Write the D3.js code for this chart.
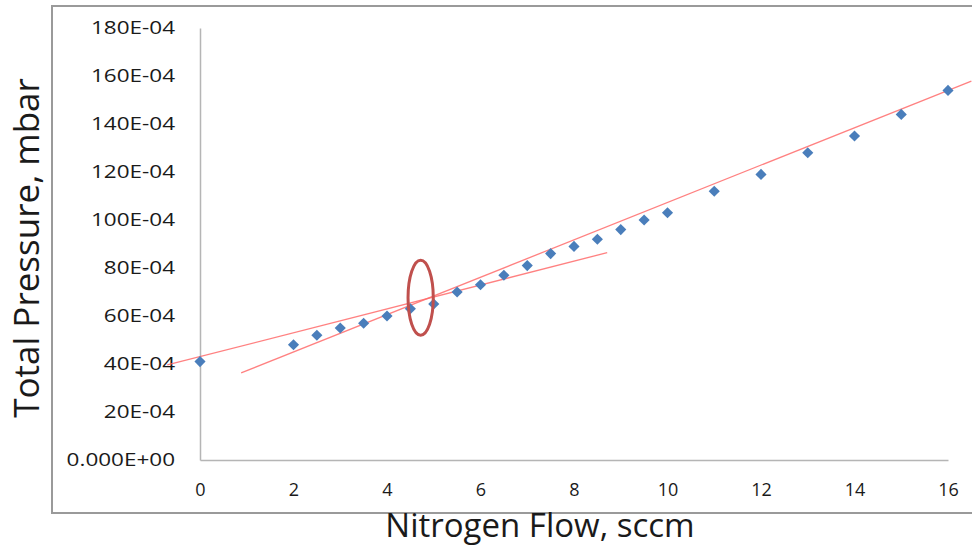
<!DOCTYPE html>
<html lang="en">

<head>
  <meta charset="UTF-8">
  <title>Total Pressure vs Nitrogen Flow</title>
  <script src="https://cdn.jsdelivr.net/npm/d3@7/dist/d3.min.js"></script>
  <style>
    body { margin: 0; background: #fff; }
    text { font-family: "Open Sans", sans-serif; fill: #1a1a1a; }
  </style>
</head>

<body>
  <div id="root"></div>
  <script>
    // data (pressure in units of 1E-04 mbar)
    const flow = [0, 2, 2.5, 3, 3.5, 4, 4.5, 5, 5.5, 6, 6.5, 7, 7.5, 8, 8.5, 9, 9.5, 10, 11, 12, 13, 14, 15, 16];
    const pressure = [41, 48, 52, 55, 57, 60, 63, 65, 70, 73, 77, 81, 86, 89, 92, 96, 100, 103, 112, 119, 128, 135, 144, 154];

    // trend lines, end points
    const trendLow = [[-0.7, 39.6], [8.71, 86.4]];
    const trendHigh = [[0.88, 36.3], [16.5, 157.9]];

    // circled crossing point
    const mark = { x: 4.72, y: 67.6, rx: 0.27, ry: 15.6 };

    const xTicks = [0, 2, 4, 6, 8, 10, 12, 14, 16];
    const yTicks = [0, 20, 40, 60, 80, 100, 120, 140, 160, 180];
    const yTickLabels = ['0.000E+00', '20E-04', '40E-04', '60E-04', '80E-04', '100E-04', '120E-04', '140E-04', '160E-04', '180E-04'];

    const width = 972, height = 547;

    const svg = d3.select('#root').append('svg')
      .attr('width', width)
      .attr('height', height);

    // outer chart frame (runs off the right edge)
    svg.append('rect')
      .attr('x', 52).attr('y', 6)
      .attr('width', 1000).attr('height', 507)
      .attr('fill', 'none')
      .attr('stroke', '#9a9a9a')
      .attr('stroke-width', 2);

    const xScale = d3.scaleLinear().domain([0, 16]).range([200, 948]);
    const yScale = d3.scaleLinear().domain([0, 180]).range([460, 28]);

    // y axis - labels are drawn a bit wider, like the original
    const stretch = 1.25;
    const yAxis = d3.axisLeft(yScale)
      .tickValues(yTicks)
      .tickSize(0)
      .tickPadding(25)
      .tickFormat((d, i) => yTickLabels[i]);
    const gy = svg.append('g')
      .attr('transform', 'translate(' + xScale(0) + ',0)')
      .call(yAxis);
    gy.select('.domain').attr('stroke', '#b5b5b5').attr('stroke-width', 1.5);
    gy.selectAll('text')
      .attr('x', -25 / stretch)
      .attr('transform', 'scale(' + stretch + ',1)')
      .attr('font-size', 18)
      .attr('font-family', '"Open Sans", sans-serif')
      .attr('fill', '#1a1a1a');

    // x axis
    const xAxis = d3.axisBottom(xScale)
      .tickValues(xTicks)
      .tickSize(0)
      .tickPadding(23);
    const gx = svg.append('g')
      .attr('transform', 'translate(0,' + yScale(0) + ')')
      .call(xAxis);
    gx.select('.domain').attr('stroke', '#b5b5b5').attr('stroke-width', 1.5);
    gx.selectAll('text')
      .attr('font-size', 18)
      .attr('font-family', '"Open Sans", sans-serif')
      .attr('fill', '#1a1a1a');

    // trend lines
    const line = d3.line()
      .x(d => xScale(d[0]))
      .y(d => yScale(d[1]));
    svg.selectAll('path.trend')
      .data([trendLow, trendHigh])
      .enter()
      .append('path')
      .attr('class', 'trend')
      .attr('d', line)
      .attr('fill', 'none')
      .attr('stroke', '#ff6b6b')
      .attr('stroke-width', 1.3)
      .attr('stroke-opacity', 0.85);

    // data points (diamonds)
    const diamond = d3.symbol().type(d3.symbolSquare).size(62);
    svg.append('g')
      .selectAll('path')
      .data(flow)
      .enter()
      .append('path')
      .attr('d', diamond)
      .attr('transform', (d, i) => 'translate(' + xScale(d) + ',' + yScale(pressure[i]) + ') rotate(45)')
      .attr('fill', '#4a7ebb');

    // red ellipse marking the break point
    svg.append('ellipse')
      .attr('cx', xScale(mark.x))
      .attr('cy', yScale(mark.y))
      .attr('rx', xScale(mark.rx) - xScale(0))
      .attr('ry', yScale(0) - yScale(mark.ry))
      .attr('fill', 'none')
      .attr('stroke', '#c0504d')
      .attr('stroke-width', 3);

    // axis titles
    svg.append('text')
      .attr('x', 540)
      .attr('y', 536.5)
      .attr('text-anchor', 'middle')
      .attr('font-size', 33)
      .text('Nitrogen Flow, sccm');

    svg.append('text')
      .attr('transform', 'translate(39,248) rotate(-90)')
      .attr('text-anchor', 'middle')
      .attr('font-size', 35)
      .text('Total Pressure, mbar');
  </script>
</body>

</html>
